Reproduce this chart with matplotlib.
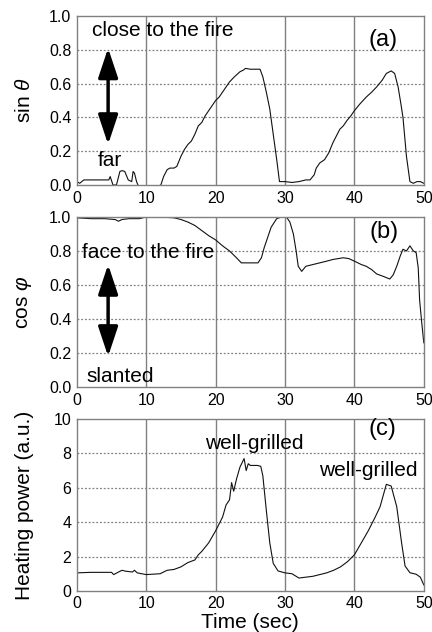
import numpy as np
import matplotlib
matplotlib.use("Agg")
import matplotlib.pyplot as plt

plt.rcParams['font.family'] = ['Liberation Sans', 'DejaVu Sans']
plt.rcParams['mathtext.fontset'] = 'custom'
plt.rcParams['mathtext.rm'] = 'Liberation Sans'
plt.rcParams['mathtext.it'] = 'Liberation Sans:italic'

# (a) sin theta
t_a = [0, 0.4, 1.0, 1.5, 3.0, 4.6, 4.8, 5.2, 5.7, 6.2, 6.5, 6.9, 7.4, 7.9, 8.1, 8.3, 8.6, 8.8, 9.2,
       10.0, 11.0, 12.1, 12.5, 13.0, 13.4, 14.0, 14.4, 15.0, 15.5, 16.0, 16.5, 17.0, 17.5, 18.0, 18.5,
       19.0, 19.5, 20.0, 20.5, 21.0, 21.5, 22.0, 22.7, 23.5, 24.0, 24.3, 25.0, 26.0, 26.4, 26.8, 27.3,
       27.8, 28.3, 28.8, 29.2, 30.0, 31.0, 32.0, 33.0, 33.6, 34.2, 34.5, 35.0, 35.7, 36.3, 36.9, 37.4,
       37.9, 38.4, 38.9, 39.5, 40.0, 40.8, 41.7, 42.5, 43.2, 44.0, 44.6, 45.3, 45.8, 46.3, 46.7, 47.0,
       47.5, 48.0, 48.5, 49.0, 49.5, 50.0]
sin_theta = [0.02, 0.01, 0.03, 0.03, 0.03, 0.03, 0.05, 0.0, 0.0, 0.08, 0.085, 0.08, 0.03, 0.02, 0.08, 0.07,
             0.02, 0.0, -0.02, -0.02, -0.02, 0.0, 0.05, 0.09, 0.10, 0.10, 0.11, 0.17, 0.21, 0.24, 0.26,
             0.30, 0.35, 0.37, 0.41, 0.44, 0.47, 0.50, 0.52, 0.55, 0.58, 0.61, 0.64, 0.67, 0.68, 0.69,
             0.685, 0.685, 0.685, 0.64, 0.55, 0.45, 0.30, 0.15, 0.02, 0.02, 0.015, 0.02, 0.03, 0.03,
             0.06, 0.10, 0.13, 0.15, 0.19, 0.25, 0.29, 0.33, 0.35, 0.38, 0.41, 0.44, 0.48, 0.52, 0.55,
             0.58, 0.62, 0.66, 0.675, 0.66, 0.58, 0.48, 0.40, 0.17, 0.02, 0.01, 0.02, 0.02, 0.01]

# (b) cos phi
t_b = [0, 2.0, 4.0, 5.5, 6.0, 6.5, 7.5, 9.0, 10.0, 12.0, 14.0, 15.0, 16.0, 17.0, 18.0, 19.0, 20.0, 21.0,
       22.0, 23.0, 23.7, 24.5, 25.5, 26.1, 26.6, 27.0, 27.5, 28.0, 28.8, 29.5, 30.2, 30.7, 31.2, 31.6,
       31.9, 32.4, 33.0, 34.0, 35.0, 36.0, 36.9, 38.4, 39.2, 40.0, 41.0, 41.7, 42.5, 43.2, 44.2, 45.1,
       45.6, 46.1, 46.6, 47.0, 47.5, 48.0, 48.5, 48.9, 49.2, 49.4, 49.7, 50.0]
cos_phi = [0.995, 0.99, 0.99, 0.985, 0.975, 0.985, 0.99, 0.99, 1.0, 1.0, 0.995, 0.985, 0.97, 0.95, 0.92,
           0.89, 0.865, 0.83, 0.80, 0.76, 0.73, 0.73, 0.73, 0.73, 0.76, 0.82, 0.88, 0.94, 0.99, 1.0,
           1.0, 0.97, 0.90, 0.80, 0.71, 0.68, 0.71, 0.72, 0.73, 0.74, 0.75, 0.76, 0.755, 0.74, 0.72,
           0.71, 0.69, 0.665, 0.65, 0.635, 0.66, 0.71, 0.77, 0.81, 0.80, 0.83, 0.80, 0.79, 0.70, 0.51,
           0.38, 0.26]

# (c) heating power
t_c = [0, 2.0, 4.0, 5.0, 5.3, 6.0, 6.5, 7.0, 8.0, 8.3, 8.7, 10.0, 12.0, 13.0, 14.0, 15.0, 16.0, 17.0,
       17.5, 18.0, 19.0, 20.0, 20.5, 21.0, 21.5, 22.0, 22.3, 22.6, 23.0, 23.5, 24.1, 24.4, 24.7, 25.0,
       26.0, 26.5, 26.8, 27.3, 27.8, 28.3, 29.0, 30.0, 31.0, 32.0, 33.0, 34.0, 35.0, 36.0, 37.0, 38.0,
       39.0, 40.0, 41.0, 42.0, 43.0, 43.7, 44.6, 45.3, 46.1, 46.8, 47.3, 48.0, 48.9, 49.5, 50.0]
heating = [1.05, 1.08, 1.08, 1.08, 0.95, 1.1, 1.2, 1.15, 1.1, 1.2, 1.05, 0.95, 1.0, 1.2, 1.25, 1.4, 1.65,
           1.8, 2.1, 2.3, 2.8, 3.5, 3.9, 4.3, 5.0, 5.3, 6.3, 5.8, 6.5, 7.2, 7.7, 7.0, 7.4, 7.3, 7.3,
           7.25, 6.7, 4.7, 2.8, 1.6, 1.16, 1.05, 1.0, 0.75, 0.8, 0.85, 0.95, 1.05, 1.2, 1.4, 1.7, 2.1,
           2.8, 3.5, 4.3, 4.9, 6.2, 6.1, 4.9, 2.8, 1.45, 1.06, 0.97, 0.8, 0.35]

fig = plt.figure(figsize=(4.32, 6.32), dpi=100)
ax_a = fig.add_axes([0.178, 0.7073, 0.803, 0.2674])
ax_b = fig.add_axes([0.178, 0.3877, 0.803, 0.2690])
ax_c = fig.add_axes([0.178, 0.0650, 0.803, 0.2720])

def style(ax, ymax, ystep):
    ax.set_xlim(0, 50)
    ax.set_ylim(0, ymax)
    ax.set_xticks(np.arange(0, 51, 10))
    ax.set_yticks(np.arange(0, ymax + ystep / 2, ystep))
    for x in [10, 20, 30, 40]:
        ax.axvline(x, color='#808080', lw=1.0, zorder=0)
    for y in np.arange(ystep, ymax - ystep / 2, ystep):
        ax.axhline(y, color='#808080', lw=0.9, ls=(0, (1.5, 1.5)), zorder=0)
    for s in ax.spines.values():
        s.set_color('#808080')
        s.set_linewidth(1.0)
    ax.tick_params(length=0, labelsize=11.5, pad=4)
    ax.yaxis.set_label_coords(-0.125, 0.5)

def arrow(ax, x, y0, y1):
    ax.annotate('', xy=(x, y1), xytext=(x, y0),
                arrowprops=dict(arrowstyle='<|-|>,head_length=0.9,head_width=0.3',
                                lw=2.5, color='k', shrinkA=0, shrinkB=0, mutation_scale=20))

ax_a.plot(t_a, sin_theta, color='#111111', lw=0.8)
style(ax_a, 1.0, 0.2)
ax_a.set_yticklabels(['0.0', '0.2', '0.4', '0.6', '0.8', '1.0'])
ax_a.set_ylabel(r'sin $\theta$', fontsize=15)
ax_a.text(2.2, 0.915, 'close to the fire', fontsize=15, va='center')
ax_a.text(44.1, 0.86, '(a)', fontsize=17, ha='center', va='center')
ax_a.text(4.7, 0.145, 'far', fontsize=15, ha='center', va='center')
arrow(ax_a, 4.5, 0.24, 0.81)

ax_b.plot(t_b, cos_phi, color='#111111', lw=0.8)
style(ax_b, 1.0, 0.2)
ax_b.set_yticklabels(['0.0', '0.2', '0.4', '0.6', '0.8', '1.0'])
ax_b.set_ylabel(r'cos $\varphi$', fontsize=15)
ax_b.text(0.67, 0.79, 'face to the fire', fontsize=15, va='center')
ax_b.text(44.3, 0.91, '(b)', fontsize=17, ha='center', va='center')
ax_b.text(1.4, 0.06, 'slanted', fontsize=15, va='center')
arrow(ax_b, 4.5, 0.18, 0.72)

ax_c.plot(t_c, heating, color='#111111', lw=0.8)
style(ax_c, 10, 2)
ax_c.set_ylabel('Heating power (a.u.)', fontsize=15)
ax_c.set_xlabel('Time (sec)', fontsize=15, labelpad=1)
ax_c.text(25.6, 8.6, 'well-grilled', fontsize=15, ha='center', va='center')
ax_c.text(42.0, 7.0, 'well-grilled', fontsize=15, ha='center', va='center')
ax_c.text(44.1, 9.4, '(c)', fontsize=17, ha='center', va='center')

fig.savefig('out.png', dpi=100)
